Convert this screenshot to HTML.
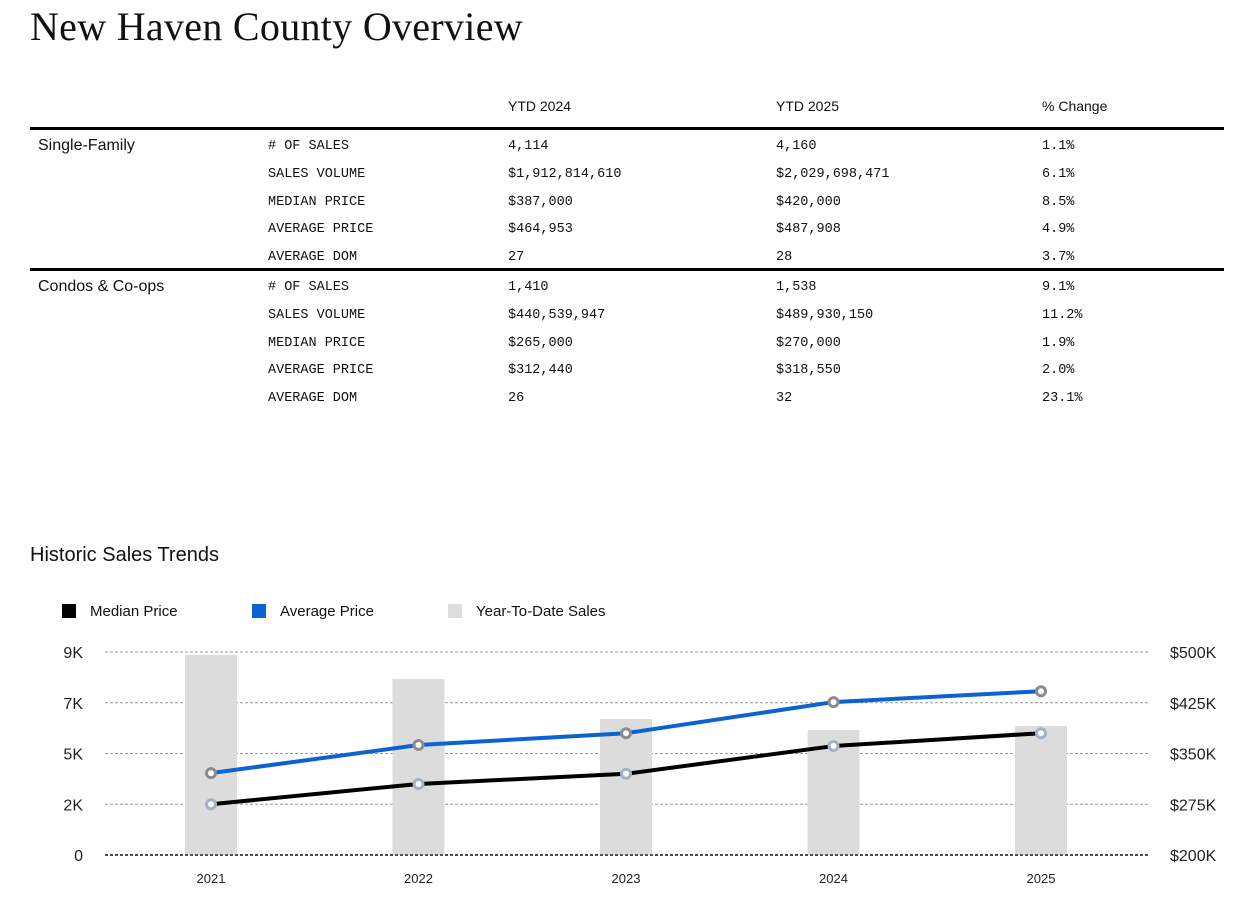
<!DOCTYPE html>
<html><head><meta charset="utf-8"><style>
body{margin:0;width:1248px;height:915px;background:#fff;position:relative;font-family:"Liberation Sans",sans-serif;color:#111;overflow:hidden}
.a{position:absolute;white-space:nowrap}
.t{font-family:"Liberation Serif",serif;font-size:40px;left:30px;top:3px;letter-spacing:0.3px}
.h{font-size:14px;top:98px}
.l{font-size:16px}
.m{font-family:"Liberation Mono",monospace;font-size:13.5px}
.rule{position:absolute;left:30px;width:1194px;background:#000}
</style></head><body>
<div class="a t">New Haven County Overview</div>
<div class="a h" style="left:508px">YTD 2024</div>
<div class="a h" style="left:776px">YTD 2025</div>
<div class="a h" style="left:1042px">% Change</div>
<div class="rule" style="top:127px;height:3px"></div>
<div class="rule" style="top:268px;height:3px"></div>
<div id="tbl"></div>
<div class="a" style="left:30px;top:544px;font-size:20px">Historic Sales Trends</div>
<div>
<div class="a" style="left:62px;top:604px;width:14px;height:14px;background:#000"></div>
<div class="a" style="left:90px;top:603px;font-size:15px">Median Price</div>
<div class="a" style="left:252px;top:604px;width:14px;height:14px;background:#0a63d1"></div>
<div class="a" style="left:280px;top:603px;font-size:15px">Average Price</div>
<div class="a" style="left:448px;top:604px;width:14px;height:14px;background:#ddd"></div>
<div class="a" style="left:476px;top:603px;font-size:15px">Year-To-Date Sales</div>
</div>
<svg id="chart" class="a" style="left:0;top:0" width="1248" height="915"></svg>
<script>
const rows=[
["Single-Family","# OF SALES","4,114","4,160","1.1%"],
["","SALES VOLUME","$1,912,814,610","$2,029,698,471","6.1%"],
["","MEDIAN PRICE","$387,000","$420,000","8.5%"],
["","AVERAGE PRICE","$464,953","$487,908","4.9%"],
["","AVERAGE DOM","27","28","3.7%"],
["Condos & Co-ops","# OF SALES","1,410","1,538","9.1%"],
["","SALES VOLUME","$440,539,947","$489,930,150","11.2%"],
["","MEDIAN PRICE","$265,000","$270,000","1.9%"],
["","AVERAGE PRICE","$312,440","$318,550","2.0%"],
["","AVERAGE DOM","26","32","23.1%"]];
const rowTops=[139,167,195,222,250,280,308,336,363,391];
const tbl=document.getElementById('tbl');
rows.forEach((r,i)=>{
 const xs=[38,268,508,776,1042];
 r.forEach((c,j)=>{ if(!c)return;
  const d=document.createElement('div');
  d.className='a '+(j==0?'l':'m');
  d.style.left=xs[j]+'px';d.style.top=(rowTops[i]-(j==0?2:0))+'px';
  d.textContent=c;
  
  
  tbl.appendChild(d);});
});

const years=["2021","2022","2023","2024","2025"];
const salesYTD=[8870,7800,6030,5540,5720];
const avgPrice=[321000,362500,380000,426000,442000];
const medPrice=[275000,305000,320000,361000,380000];
const leftTicks=[0,2250,4500,6750,9000];
const leftLabels=["0","2K","5K","7K","9K"];
const rightTicks=[200000,275000,350000,425000,500000];
const rightLabels=["$200K","$275K","$350K","$425K","$500K"];

const NS="http://www.w3.org/2000/svg";
const svg=document.getElementById('chart');
const y0=855,y1=652,xL=105,xR=1148;
const yL=v=>y0-(v/9000)*(y0-y1);
const yR=v=>y0-((v-200000)/300000)*(y0-y1);
const xC=i=>211+i*207.5;
function el(t,a){const e=document.createElementNS(NS,t);for(const k in a)e.setAttribute(k,a[k]);svg.appendChild(e);return e;}
leftTicks.forEach((v,i)=>{
 const g=el('line',{x1:xL,x2:xR,y1:yL(v),y2:yL(v),stroke:i==0?'#333':'#999','stroke-dasharray':'3,2','stroke-width':i==0?1.5:1});
 
 
 const t=el('text',{x:83,y:yL(v)+6,'text-anchor':'end','font-size':16,'font-family':'Liberation Sans, sans-serif',fill:'#222'});
 t.textContent=leftLabels[i];
 
 
});
rightTicks.forEach((v,i)=>{
 const t=el('text',{x:1170,y:yR(v)+6,'font-size':16,'font-family':'Liberation Sans, sans-serif',fill:'#222'});
 t.textContent=rightLabels[i];
 
 
});
years.forEach((y,i)=>{
 const b=el('rect',{x:xC(i)-26,y:yL(salesYTD[i]),width:52,height:y0-yL(salesYTD[i]),fill:'#dcdcdc'});
 
 
 const t=el('text',{x:xC(i),y:883,'text-anchor':'middle','font-size':13,'font-family':'Liberation Sans, sans-serif',fill:'#222'});
 t.textContent=y;
 
 
});
el('line',{x1:xL,x2:xR,y1:y0,y2:y0,stroke:'#333','stroke-dasharray':'3,2','stroke-width':1.5});
function series(vals,color,mk,name){
 const p=el('polyline',{points:vals.map((v,i)=>xC(i)+','+yR(v)).join(' '),fill:'none',stroke:color,'stroke-width':4,'stroke-linejoin':'round'});
 
 
 vals.forEach((v,i)=>{
  const c=el('circle',{cx:xC(i),cy:yR(v),r:4.5,fill:'#fff',stroke:mk,'stroke-width':3});
  
  
 });
}
series(medPrice,'#000','#a3b0c6','median-price');
series(avgPrice,'#0a63d1','#8c8c8c','average-price');
</script>
</body></html>
